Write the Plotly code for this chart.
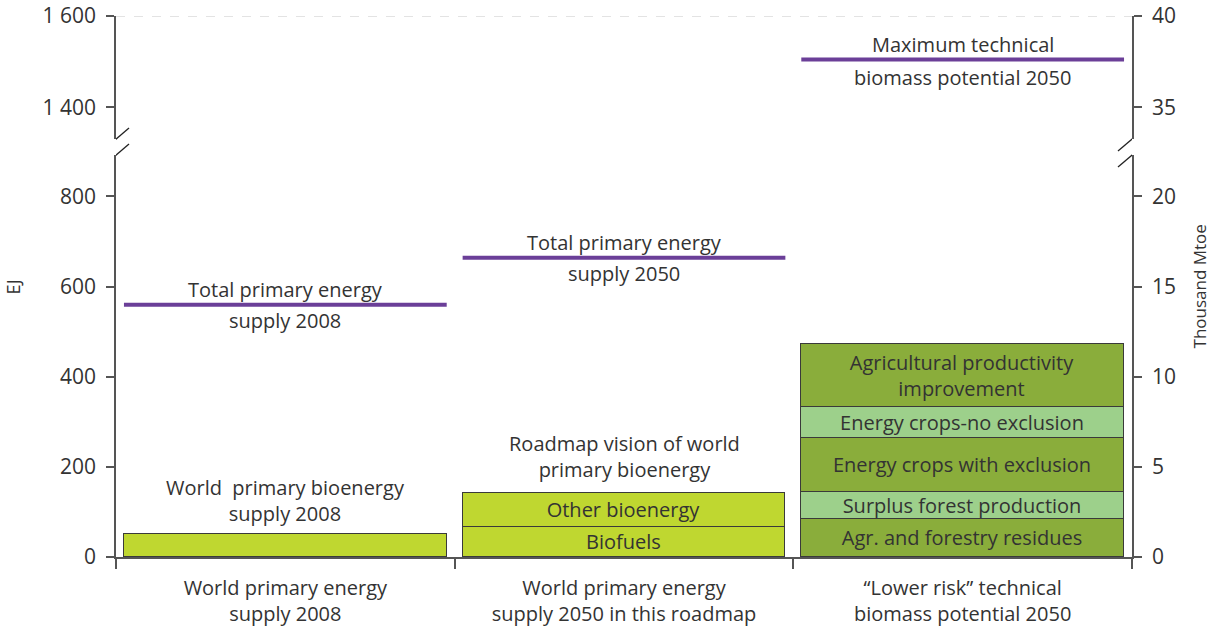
import plotly.graph_objects as go

# ---------------- data ----------------
categories = ["World primary energy<br>supply 2008",
              "World primary energy<br>supply 2050 in this roadmap",
              "\u201cLower risk\u201d technical<br>biomass potential 2050"]
cat_pos = [0.5, 1.5, 2.5]

bio_2008_label = "World  primary bioenergy<br>supply 2008"
bio_2008 = 50

roadmap_label = "Roadmap vision of world<br>primary bioenergy"
roadmap_names = ["Biofuels", "Other bioenergy"]
roadmap_values = [66, 76]

lowrisk_names = ["Agr. and forestry residues", "Surplus forest production",
                 "Energy crops with exclusion", "Energy crops-no exclusion",
                 "Agricultural productivity<br>improvement"]
lowrisk_values = [84, 61, 118, 70, 140]

tpes_labels = [("Total primary energy", "supply 2008"),
               ("Total primary energy", "supply 2050")]
tpes_values = [560, 664]
maxtech_label = ("Maximum technical", "biomass potential 2050")
maxtech_value = 1505

left_ticks_low = [0, 200, 400, 600, 800]
left_ticks_high = [1400, 1600]
left_ticktext_high = ["1 400", "1 600"]
right_ticks_low = [0, 5, 10, 15, 20]
right_ticks_high = [35, 40]
EJ_PER_KMTOE = 40

# ---------------- style ----------------
FONT = "Open Sans"
TXT = "#333333"
AX = "#555555"
LIME = "#bfd730"
DARK = "#8aad3b"
LIGHT = "#9dd08b"
PURPLE = "#6b3f98"
BAR_W = 0.953
FS = 20

low_range = [0, 892]
high_range = [1331, 1600]
low_dom = [0, 0.743]
high_dom = [0.7726, 1]

fig = go.Figure()

def add_bar(x, y, color, text):
    fig.add_trace(go.Bar(
        x=[x], y=[y], width=BAR_W, marker=dict(color=color, line=dict(color="#3a3a3a", width=1)),
        text=[text], textposition="inside", insidetextanchor="middle", textangle=0,
        constraintext="none", textfont=dict(family=FONT, size=FS, color=TXT),
        hoverinfo="skip", showlegend=False, xaxis="x", yaxis="y"))

add_bar(cat_pos[0], bio_2008, LIME, "")
for n, v in zip(roadmap_names, roadmap_values):
    add_bar(cat_pos[1], v, LIME, n)
lr_colors = [DARK, LIGHT, DARK, LIGHT, DARK]
for n, v, c in zip(lowrisk_names, lowrisk_values, lr_colors):
    add_bar(cat_pos[2], v, c, n)

annotations = []
# labels above bars
annotations.append(dict(x=cat_pos[0], y=bio_2008, xref="x", yref="y", text=bio_2008_label,
                        showarrow=False, yanchor="bottom", yshift=5,
                        font=dict(family=FONT, size=FS, color=TXT)))
annotations.append(dict(x=cat_pos[1], y=sum(roadmap_values), xref="x", yref="y", text=roadmap_label,
                        showarrow=False, yanchor="bottom", yshift=8,
                        font=dict(family=FONT, size=FS, color=TXT)))

# TPES lines
for i, (v, (above, below)) in enumerate(zip(tpes_values, tpes_labels)):
    c = cat_pos[i]
    fig.add_trace(go.Scatter(x=[c - BAR_W / 2, c + BAR_W / 2], y=[v, v], mode="lines",
                             line=dict(color=PURPLE, width=4), hoverinfo="skip",
                             showlegend=False, xaxis="x", yaxis="y"))
    annotations.append(dict(x=c, y=v, xref="x", yref="y", text=above, showarrow=False,
                            yanchor="middle", yshift=15, font=dict(family=FONT, size=FS, color=TXT)))
    annotations.append(dict(x=c, y=v, xref="x", yref="y", text=below, showarrow=False,
                            yanchor="middle", yshift=-16, font=dict(family=FONT, size=FS, color=TXT)))

c = cat_pos[2]
fig.add_trace(go.Scatter(x=[c - BAR_W / 2, c + BAR_W / 2], y=[maxtech_value, maxtech_value],
                         mode="lines", line=dict(color=PURPLE, width=4), hoverinfo="skip",
                         showlegend=False, xaxis="x", yaxis="y2"))
annotations.append(dict(x=c, y=maxtech_value, xref="x", yref="y2", text=maxtech_label[0],
                        showarrow=False, yanchor="middle", yshift=15,
                        font=dict(family=FONT, size=FS, color=TXT)))
annotations.append(dict(x=c, y=maxtech_value, xref="x", yref="y2", text=maxtech_label[1],
                        showarrow=False, yanchor="middle", yshift=-18,
                        font=dict(family=FONT, size=FS, color=TXT)))

# dummy traces so overlay axes render
fig.add_trace(go.Scatter(x=[None], y=[None], xaxis="x", yaxis="y3", showlegend=False))
fig.add_trace(go.Scatter(x=[None], y=[None], xaxis="x", yaxis="y4", showlegend=False))

# axis titles
annotations.append(dict(x=-0.1015, y=0.5, xref="paper", yref="paper", text="EJ", showarrow=False,
                        xanchor="center", yanchor="middle",
                        textangle=-90, font=dict(family=FONT, size=18, color=TXT)))
annotations.append(dict(x=1.0669, y=0.5, xref="paper", yref="paper", text="Thousand Mtoe",
                        xanchor="center", yanchor="middle",
                        showarrow=False, textangle=-90, font=dict(family=FONT, size=17, color=TXT)))

shapes = []
# dashed top line at 1600
shapes.append(dict(type="line", xref="x", yref="y2", x0=0, x1=3, y0=1600, y1=1600,
                   line=dict(color="#c8c8c8", width=1.2, dash="dash"), layer="below"))
# axis break slashes
gap_center = (low_dom[1] + high_dom[0]) / 2
for xa in (0, 3):
    for (y0, y1) in ((-4, 19), (-20, 3)):
        shapes.append(dict(type="line", xref="x", xsizemode="pixel", xanchor=xa, x0=-14, x1=13,
                           yref="paper", ysizemode="pixel", yanchor=gap_center, y0=y0, y1=y1,
                           line=dict(color="#222222", width=1.3)))

tickfont = dict(family=FONT, size=21, color=TXT)
common_y = dict(showline=True, linecolor=AX, linewidth=1.5, ticks="outside", ticklen=8,
                tickcolor=AX, tickwidth=1.5, showgrid=False, zeroline=False, tickfont=tickfont,
                fixedrange=True, automargin=False, ticklabeloverflow="allow",
                ticklabelstandoff=6)

fig.update_layout(
    width=1210, height=629,
    margin=dict(l=116, r=78, t=16, b=72),
    paper_bgcolor="white", plot_bgcolor="white",
    barmode="stack", bargap=0,
    showlegend=False,
    font=dict(family=FONT, color=TXT),
    xaxis=dict(range=[0, 3], tickvals=cat_pos, ticktext=categories, ticks="", showline=True,
               linecolor=AX, linewidth=1.5, showgrid=False, zeroline=False,
               tickfont=dict(family=FONT, size=FS, color=TXT),
               ticklabelstandoff=12, automargin=False, ticklabeloverflow="allow",
               minor=dict(tickvals=[0, 1, 2, 3], ticks="outside", ticklen=10, tickcolor=AX, tickwidth=1.5),
               anchor="y", fixedrange=True),
    yaxis=dict(domain=low_dom, range=low_range, tickvals=left_ticks_low, anchor="x", **common_y),
    yaxis2=dict(domain=high_dom, range=high_range, tickvals=left_ticks_high,
                ticktext=left_ticktext_high, anchor="x", **common_y),
    yaxis3=dict(overlaying="y", side="right", range=[r / EJ_PER_KMTOE for r in low_range],
                tickvals=right_ticks_low, anchor="x", **common_y),
    yaxis4=dict(overlaying="y2", side="right", range=[r / EJ_PER_KMTOE for r in high_range],
                tickvals=right_ticks_high, anchor="x", **common_y),
    annotations=annotations,
    shapes=shapes,
)

# remove the browser's default 8px body margin so the 1210x629 figure fills the window exactly
fig.write_html("out.html", config={"displayModeBar": False},
               post_script="document.body.style.margin='0';")
